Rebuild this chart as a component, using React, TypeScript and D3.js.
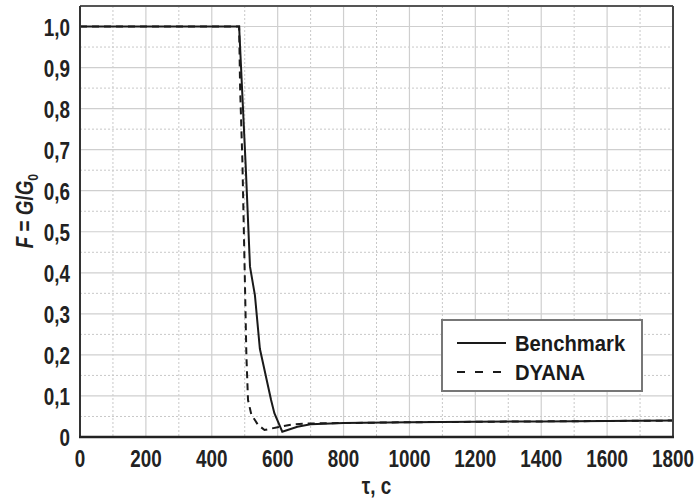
import React from "react";
import * as d3 from "d3";

const benchTime = [0, 483, 503, 516, 531, 546, 580, 590, 614, 660, 700, 800, 1000, 1200, 1400, 1600, 1800];
const benchF = [1.0, 1.0, 0.66, 0.415, 0.345, 0.215, 0.09, 0.058, 0.013, 0.025, 0.031, 0.034, 0.036, 0.037, 0.038, 0.039, 0.04];

const dyanaTime = [0, 483, 486, 493, 500, 505, 510, 520, 540, 560, 600, 650, 700, 800, 1000, 1200, 1400, 1600, 1800];
const dyanaF = [1.0, 1.0, 0.85, 0.67, 0.4, 0.2, 0.09, 0.055, 0.03, 0.017, 0.024, 0.031, 0.033, 0.034, 0.036, 0.037, 0.038, 0.039, 0.04];

const xTicks = [0, 200, 400, 600, 800, 1000, 1200, 1400, 1600, 1800];
const xMinor = [100, 300, 500, 700, 900, 1100, 1300, 1500, 1700];
const yTicks = [0, 0.1, 0.2, 0.3, 0.4, 0.5, 0.6, 0.7, 0.8, 0.9, 1.0];
const yMinor = [0.05, 0.15, 0.25, 0.35, 0.45, 0.55, 0.65, 0.75, 0.85, 0.95, 1.05];
const legendNames = ["Benchmark", "DYANA"];

const W = 696, H = 499;
const L = 80, R = 673, T = 6, B = 437;
const FONT = "'Liberation Sans', Arial, sans-serif";
const SX = 0.82;

export default function App() {
  const x = d3.scaleLinear().domain([0, 1800]).range([L, R]);
  const y = d3.scaleLinear().domain([0, 1.05]).range([B, T]);
  const line = d3.line<[number, number]>().x(d => x(d[0])).y(d => y(d[1]));
  const bench = benchTime.map((t, i) => [t, benchF[i]] as [number, number]);
  const dyana = dyanaTime.map((t, i) => [t, dyanaF[i]] as [number, number]);
  const fmt = (v: number) => (v === 0 ? "0" : v.toFixed(1).replace(".", ","));

  return (
    <svg width={W} height={H} style={{ position: "absolute", left: 0, top: 0, background: "#fff" }}>
      <rect x={0} y={0} width={W} height={H} fill="#fff" />
      {/* minor grid */}
      {xMinor.map(v => (
        <line key={"xm" + v} x1={x(v)} x2={x(v)} y1={T} y2={B} stroke="#c8c8c8" strokeWidth={1} strokeDasharray="2,2" />
      ))}
      {yMinor.map(v => (
        <line key={"ym" + v} x1={L} x2={R} y1={y(v)} y2={y(v)} stroke="#c8c8c8" strokeWidth={1} strokeDasharray="2,2" />
      ))}
      {/* major grid */}
      {xTicks.map(v => (
        <line key={"xg" + v} x1={x(v)} x2={x(v)} y1={T} y2={B} stroke="#cfcfcf" strokeWidth={1.2} />
      ))}
      {yTicks.map(v => (
        <line key={"yg" + v} x1={L} x2={R} y1={y(v)} y2={y(v)} stroke="#cfcfcf" strokeWidth={1.2} />
      ))}
      {/* data */}
      <path d={line(dyana) || ""} fill="none" stroke="#1a1a1a" strokeWidth={2} strokeDasharray="7,5" />
      <path d={line(bench) || ""} fill="none" stroke="#1a1a1a" strokeWidth={2} />
      {/* frame */}
      <line x1={L} x2={R} y1={T} y2={T} stroke="#555" strokeWidth={2} />
      <line x1={R} x2={R} y1={T} y2={B} stroke="#444" strokeWidth={2} />
      <line x1={L} x2={L} y1={T} y2={B} stroke="#333" strokeWidth={2} />
      <line x1={L - 1} x2={R + 1} y1={B} y2={B} stroke="#222" strokeWidth={2.5} />
      {/* y tick labels */}
      {yTicks.map(v => (
        <g key={"yl" + v} transform={`translate(70,${y(v) + 9}) scale(${SX},1)`}>
          <text textAnchor="end" fontFamily={FONT} fontWeight="bold" fontSize={23} fill="#222">{fmt(v)}</text>
        </g>
      ))}
      {/* x tick labels */}
      {xTicks.map(v => (
        <g key={"xl" + v} transform={`translate(${x(v)},467) scale(${SX},1)`}>
          <text textAnchor="middle" fontFamily={FONT} fontWeight="bold" fontSize={23} fill="#222">{String(v)}</text>
        </g>
      ))}
      {/* x axis title */}
      <g transform={`translate(${(L + R) / 2},494) scale(${SX},1)`}>
        <text textAnchor="middle" fontFamily={FONT} fontWeight="bold" fontSize={23} fill="#222">τ, с</text>
      </g>
      {/* y axis title */}
      <g transform={`translate(33,211) rotate(-90) scale(${SX},1)`}>
        <text textAnchor="middle" fontFamily={FONT} fontWeight="bold" fontSize={23} fill="#222">
          <tspan fontStyle="italic">F</tspan>
          <tspan> = </tspan>
          <tspan fontStyle="italic">G</tspan>
          <tspan>/</tspan>
          <tspan fontStyle="italic">G</tspan>
          <tspan dy={5} fontSize={15}>0</tspan>
        </text>
      </g>
      {/* legend */}
      <rect x={442} y={320} width={200} height={71} fill="#fff" stroke="#777" strokeWidth={2} />
      <line x1={457} x2={506} y1={343} y2={343} stroke="#1a1a1a" strokeWidth={2} />
      <line x1={457} x2={506} y1={372} y2={372} stroke="#1a1a1a" strokeWidth={2} strokeDasharray="8,10" />
      {legendNames.map((n, i) => (
        <g key={n} transform={`translate(515,${351 + i * 29}) scale(0.92,1)`}>
          <text fontFamily={FONT} fontWeight="bold" fontSize={22} fill="#1a1a1a">{n}</text>
        </g>
      ))}
    </svg>
  );
}
